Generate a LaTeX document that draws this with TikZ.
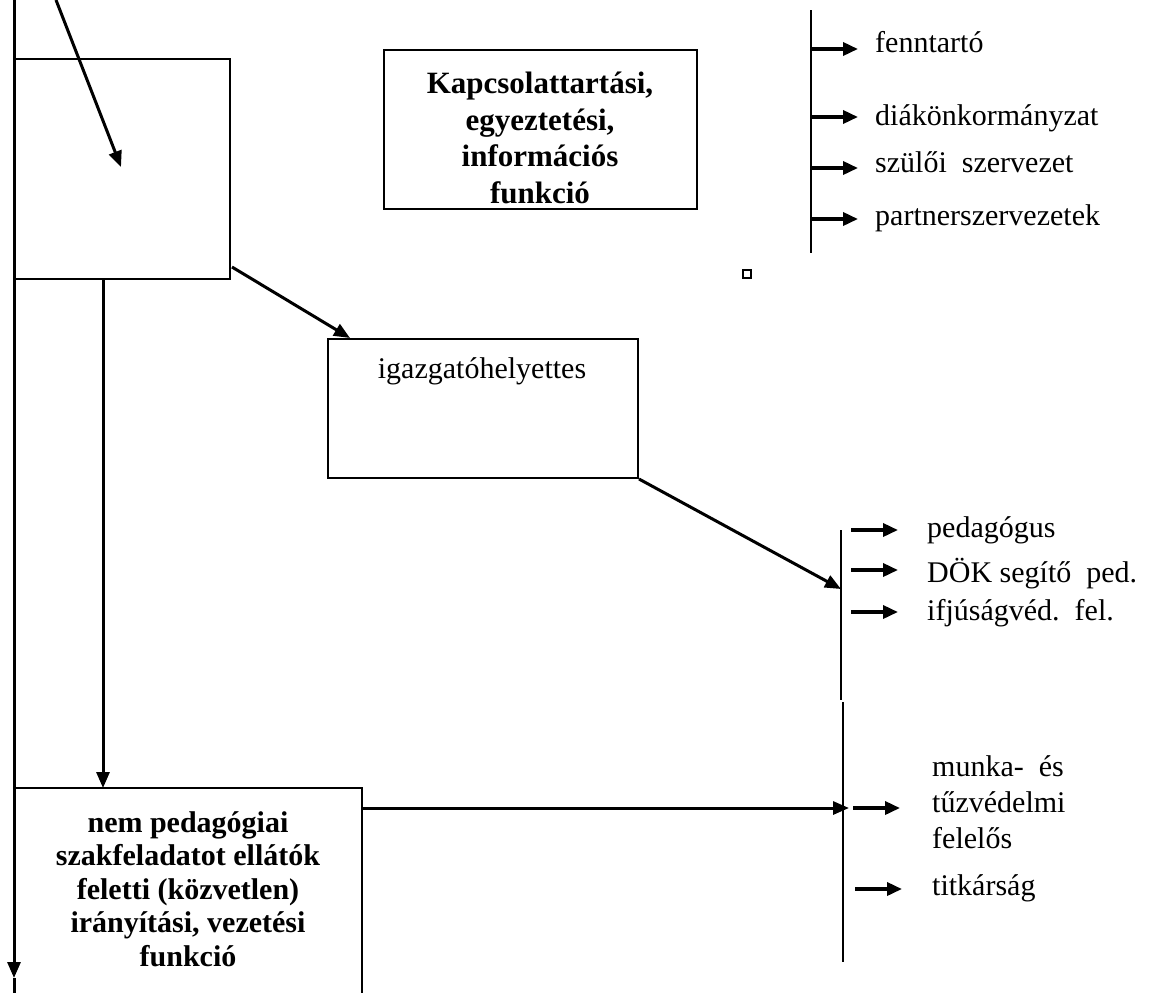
\documentclass[tikz,border=0pt]{standalone}
\usepackage{fontspec}
\setmainfont{Liberation Serif}
\usetikzlibrary{arrows.meta,calc}
\begin{document}
\begin{tikzpicture}[x=1pt,y=-1pt,
  tipbig/.style={-{Triangle[length=16pt,width=13pt]}},
  conn/.style={line width=3pt, tipbig},
  edgeline/.style={line width=3pt},
  sconn/.style={line width=3.5pt, -{Triangle[length=15pt,width=13pt]}},
  box/.style={draw, line width=2pt, rectangle, inner sep=0pt, anchor=north west},
  rail/.style={line width=2pt},
  lbl/.style={anchor=base west, inner sep=0pt, align=left, font=\fontsize{30}{36}\selectfont},
  btxt/.style={align=center, inner sep=0pt, font=\fontsize{31}{36.5}\selectfont\bfseries}]
\useasboundingbox (0,0) rectangle (1150,993);

% boxes
\node[box, minimum width=215pt, minimum height=220pt] (boxA) at (14,58) {};
\node[box, minimum width=313pt, minimum height=159pt] (boxK) at (383,49) {};
\node[btxt] (tK) at (540,138) {Kapcsolattartási,\\egyeztetési,\\információs\\funkció};
\node[box, minimum width=310pt, minimum height=139pt] (boxI) at (327,338) {};
\node[anchor=base, inner sep=0pt, font=\fontsize{30}{36}\selectfont] (tI) at (482,378) {igazgatóhelyettes};
\node[anchor=north west, inner sep=0pt, minimum width=348pt, minimum height=205pt] (boxN) at (14,788) {};
\node[btxt, font=\fontsize{30}{33.5}\selectfont\bfseries] (tN) at (188,889) {nem pedagógiai\\szakfeladatot ellátók\\feletti (közvetlen)\\irányítási, vezetési\\funkció};
\draw[line width=2pt] (boxN.north west) -- (boxN.north east) -- (boxN.south east);

% small square
\node[draw, line width=1.5pt, minimum size=8pt, inner sep=0pt] (sq) at (747,274) {};

% main left line
\coordinate (mTop) at (14,0);
\coordinate (mArr) at (14,978);
\coordinate (mBot) at (14,993);
\draw[conn] (mTop) -- (mArr);
\draw[edgeline] (mArr) -- (mBot);

% top diagonal arrow into boxA
\coordinate (pTop) at (56,0);
\coordinate (pTip) at (121,167);
\draw[conn] (pTop) -- (pTip);

% boxA -> boxN
\draw[conn] ($(boxA.south west)+(89,0)$) -- ($(boxN.north west)+(89,0)$);

% boxA -> boxI
\draw[conn] ($(boxA.south east)+(1,-13)$) -- ($(boxI.north west)+(23,0)$);

% right rails
\coordinate (r1t) at (811,10);
\coordinate (r1b) at (811,253);
\draw[rail] (r1t) -- (r1b);
\coordinate (r2t) at (841,530);
\coordinate (r2m) at (841,700);
\coordinate (r3t) at (843,702);
\coordinate (r3b) at (843,962);
\draw[rail] (r2t) -- (r2m);
\draw[rail] (r3t) -- (r3b);

% boxI -> rail 2
\coordinate (v2hit) at (841,589);
\draw[conn] (boxI.south east) -- (v2hit);

% boxN -> rail 3
\coordinate (v3hit) at (849,808);
\draw[conn] ($(boxN.north east)+(0,20)$) -- (v3hit);

% top right labels
\node[lbl] (l1) at (875,52) {fenntartó};
\node[lbl] (l2) at (875,125) {diákönkormányzat};
\node[lbl] (l3) at (875,172) {szülői\ \ szervezet};
\node[lbl] (l4) at (875,225) {partnerszervezetek};
\draw[sconn] (r1t |- 0,49) -- (858,49);
\draw[sconn] (r1t |- 0,117) -- (858,117);
\draw[sconn] (r1t |- 0,168) -- (858,168);
\draw[sconn] (r1t |- 0,219) -- (858,219);

% middle right labels
\node[lbl] (m1) at (927,537) {pedagógus};
\node[lbl] (m2) at (927,582) {DÖK segítő\ \ ped.};
\node[lbl] (m3) at (927,620) {ifjúságvéd.\ \ fel.};
\draw[sconn] (851,530) -- (898,530);
\draw[sconn] (851,570) -- (898,570);
\draw[sconn] (851,612) -- (898,612);

% bottom right labels
\node[lbl] (b1) at (932,848) {munka-\ \ és\\tűzvédelmi\\felelős};
\node[lbl] (b2) at (932,895) {titkárság};
\draw[sconn] (853,808) -- (900,808);
\draw[sconn] (855,889) -- (902,889);
\end{tikzpicture}
\end{document}
